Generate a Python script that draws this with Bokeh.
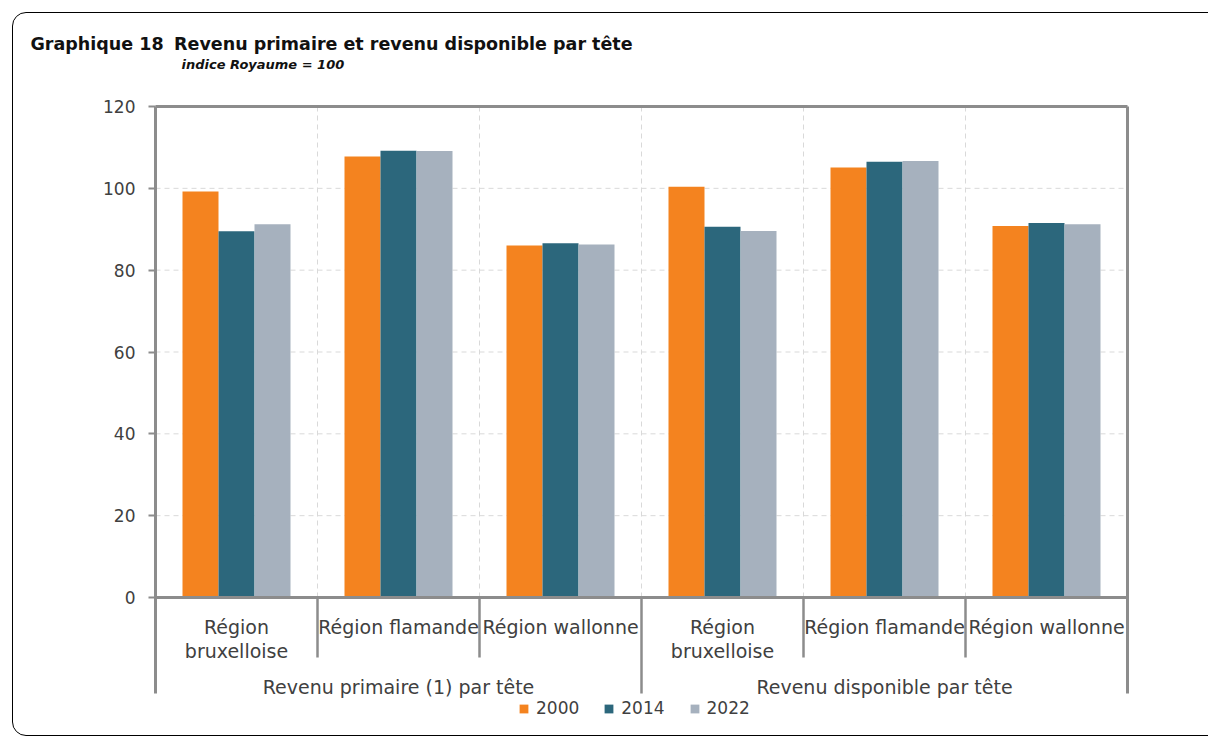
from bokeh.plotting import figure
from bokeh.models import (Range1d, ColumnDataSource, FixedTicker, Title, Legend,
                          LegendItem, InlineStyleSheet)
from bokeh.core.properties import value
from bokeh.embed import file_html
from bokeh.resources import INLINE

# ---------------- data ----------------
groups = ["Revenu primaire (1) par tête", "Revenu disponible par tête"]
regions = ["Région\nbruxelloise", "Région flamande", "Région wallonne"]
years = ["2000", "2014", "2022"]
v2000 = [99.2, 107.8, 86.0, 100.4, 105.1, 90.8]
v2014 = [89.5, 109.2, 86.6, 90.6, 106.5, 91.5]
v2022 = [91.2, 109.1, 86.3, 89.6, 106.7, 91.2]
y_ticks = [0, 20, 40, 60, 80, 100, 120]
grid_ticks = [20, 40, 60, 80, 100]
colors = ["#F4831F", "#2C677C", "#A6B1BE"]

title_num = "Graphique 18"
title_txt = "Revenu primaire et revenu disponible par tête"
subtitle = "indice Royaume = 100"

# ---------------- styles / geometry ----------------
FONT = "DejaVu Sans"
AX = "#8C8C8C"
GRID = "#D9D9D9"
TXT = "#404040"
W, H = 1208, 737
PAD = 3                                   # px of frame beyond the plot box
FL, FR, FT, FB = 155 - PAD, 1127 + PAD, 72, 725
Y0, Y120 = 597, 106                       # canvas px of y = 0 and y = 120
scale = (Y0 - Y120) / 120.0
ytop = 120 + (Y120 - FT) / scale
ybot = -(FB - Y0) / scale

def ydata(cy):
    return (Y0 - cy) / scale

n_cat = len(groups) * len(regions)
cat_px = (1127 - 155) / n_cat
xpad = PAD / cat_px

p = figure(width=W, height=H, x_range=Range1d(-xpad, n_cat + xpad),
           y_range=Range1d(ybot, ytop),
           output_backend="svg", toolbar_location=None, x_axis_location=None,
           min_border_left=FL, min_border_right=W - FR, min_border_top=FT,
           min_border_bottom=H - FB)
p.outline_line_color = None
p.background_fill_color = "white"
p.border_fill_color = "white"
p.xgrid.visible = False
p.ygrid.visible = False

# y axis (line drawn separately so it stops at the category labels)
ya = p.yaxis[0]
ya.ticker = FixedTicker(ticks=y_ticks)
ya.axis_line_color = None
ya.major_tick_line_color = AX
ya.major_tick_line_width = 2
ya.major_tick_out = 4
ya.major_tick_in = PAD
ya.minor_tick_line_color = None
ya.major_label_standoff = 13
ya.major_label_text_font = FONT
ya.major_label_text_font_size = "17px"
ya.major_label_text_color = TXT

# horizontal dashed grid
p.segment(x0=[0] * len(grid_ticks), x1=[n_cat] * len(grid_ticks), y0=grid_ticks,
          y1=grid_ticks, line_color=GRID, line_dash="5 4", line_width=1)
# vertical dashed grid between categories
inner = list(range(1, n_cat))
p.segment(x0=inner, x1=inner, y0=[0] * len(inner), y1=[120] * len(inner),
          line_color=GRID, line_dash="5 4", line_width=1)

# bars
centers = [i + 0.5 for i in range(n_cat)]
bw = 36.0 / cat_px
src = ColumnDataSource(dict(
    x2000=[c - bw for c in centers], x2014=centers, x2022=[c + bw for c in centers],
    y2000=v2000, y2014=v2014, y2022=v2022))
renderers = []
for yr, c in zip(years, colors):
    r = p.vbar(x="x" + yr, top="y" + yr, bottom=0, width=bw, source=src,
               fill_color=c, line_color=None)
    renderers.append(r)

# frame lines
y_sep_short = ydata(657)
y_sep_long = ydata(693)
p.segment(x0=[0, 0], x1=[n_cat, n_cat], y0=[120, 0], y1=[120, 0],
          line_color=AX, line_width=3)
p.segment(x0=[0, n_cat], x1=[0, n_cat], y0=[120, 120], y1=[y_sep_long, y_sep_long],
          line_color=AX, line_width=3)
# category separators
sx, sy = [], []
for i in inner:
    sx.append(i)
    sy.append(y_sep_long if i % len(regions) == 0 else y_sep_short)
p.segment(x0=sx, x1=sx, y0=[0] * len(sx), y1=sy, line_color=AX, line_width=2.5)

# region labels (possibly two lines)
lx, ly, lt = [], [], []
for gi in range(len(groups)):
    for ri, r in enumerate(regions):
        for j, line in enumerate(r.split("\n")):
            lx.append(gi * len(regions) + ri + 0.5)
            ly.append(ydata(626 + j * 24.5))
            lt.append(line)
p.text(x=lx, y=ly, text=lt, text_font=value(FONT), text_font_size="19px",
       text_align="center", text_baseline="alphabetic", text_color=TXT)

# group labels
gx = [gi * len(regions) + len(regions) / 2 for gi in range(len(groups))]
p.text(x=gx, y=[ydata(686.5)] * len(groups), text=groups, text_font=value(FONT),
       text_font_size="19px", text_align="center", text_baseline="alphabetic",
       text_color=TXT)

# legend
legend = Legend(items=[LegendItem(label=yr, renderers=[r]) for yr, r in zip(years, renderers)],
                orientation="horizontal", location=(518 - FL, FB - 718),
                glyph_width=11, glyph_height=11, label_standoff=7, spacing=24,
                padding=0, margin=0, border_line_color=None, background_fill_alpha=0,
                label_text_font=FONT, label_text_font_size="17px",
                label_text_color=TXT)
p.add_layout(legend)

# titles (above the frame)
p.add_layout(Title(text=subtitle, align="left", offset=181 - FL, standoff=2,
                   text_font=FONT, text_font_size="13px", text_font_style="bold italic",
                   text_color="#111111"), "above")
p.add_layout(Title(text=title_num + "\u2002\u200a" + title_txt, align="left",
                   offset=30 - FL, standoff=0, text_font=FONT, text_font_size="17.5px",
                   text_font_style="bold", text_color="#111111"), "above")

# outer rounded frame of the page
p.stylesheets = [InlineStyleSheet(css="""
:host { position: relative; overflow: hidden; }
:host::after { content: ''; position: absolute; left: 12px; top: 12px;
  width: 1260px; height: 724px; border: 1.5px solid #000; border-radius: 14px;
  box-sizing: border-box; pointer-events: none; }
""")]

open("out.html", "w").write(file_html(p, INLINE))
